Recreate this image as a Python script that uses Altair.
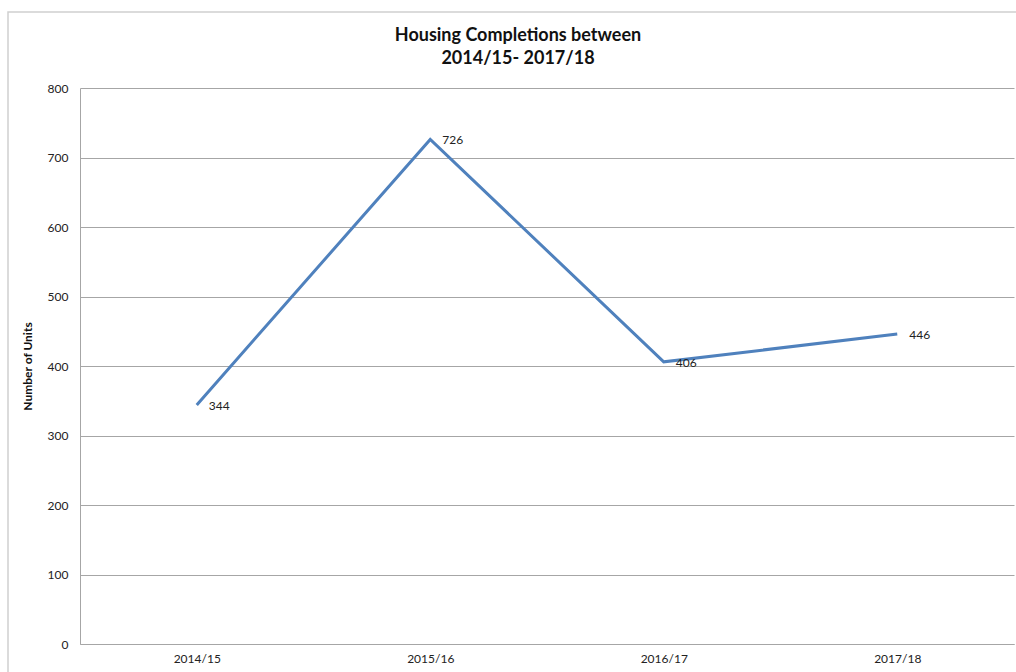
import altair as alt
import pandas as pd

years = ["2014/15", "2015/16", "2016/17", "2017/18"]
units = [344, 726, 406, 446]

df = pd.DataFrame({"year": years, "units": units})
FONT = "Lato"

base = alt.Chart(df)

frame = alt.Chart(pd.DataFrame({"a": [0]})).mark_rect(
    fillOpacity=0, stroke="#d0d0d0", strokeWidth=1.5
).encode(
    x=alt.value(-72), x2=alt.value(1040), y=alt.value(-76), y2=alt.value(700)
)

x_enc = alt.X("year:N", sort=years, title=None,
              scale=alt.Scale(paddingInner=0, paddingOuter=0.5),
              axis=alt.Axis(labelAngle=0, ticks=False, labelPadding=9, labelFontSize=12,
                            labelFont=FONT, labelColor="#222", domainColor="#a6a6a6",
                            grid=False))
y_enc = alt.Y("units:Q", title="Number of Units",
              scale=alt.Scale(domain=[0, 800]),
              axis=alt.Axis(values=list(range(0, 801, 100)), ticks=False, labelPadding=12,
                            labelFontSize=12, labelFont=FONT, labelColor="#222",
                            domainColor="#a6a6a6", gridColor="#a6a6a6",
                            titleFont=FONT, titleFontSize=12, titleFontWeight="bold",
                            titleColor="#111", titlePadding=13))

line = base.mark_line(color="#4F81BD", strokeWidth=3).encode(x=x_enc, y=y_enc)
labels = base.mark_text(align="left", baseline="middle", dx=12, dy=1, fontSize=12,
                        font=FONT, color="#222").encode(
    x=alt.X("year:N", sort=years), y="units:Q", text="units:Q")

chart = alt.layer(frame, line, labels).properties(
    width=934, height=556,
    padding={"left": 80, "top": 88, "right": 2, "bottom": 28},
    autosize=alt.AutoSizeParams(type="none"),
    title=alt.TitleParams(["Housing Completions between", "2014/15- 2017/18"],
                          anchor="middle", frame="group", dx=-29, fontSize=18,
                          fontWeight="bold", font=FONT, color="#111", offset=-57,
                          lineHeight=23),
).configure_view(stroke=None)

chart.save("out.html", embed_options={"renderer": "svg", "actions": False})
